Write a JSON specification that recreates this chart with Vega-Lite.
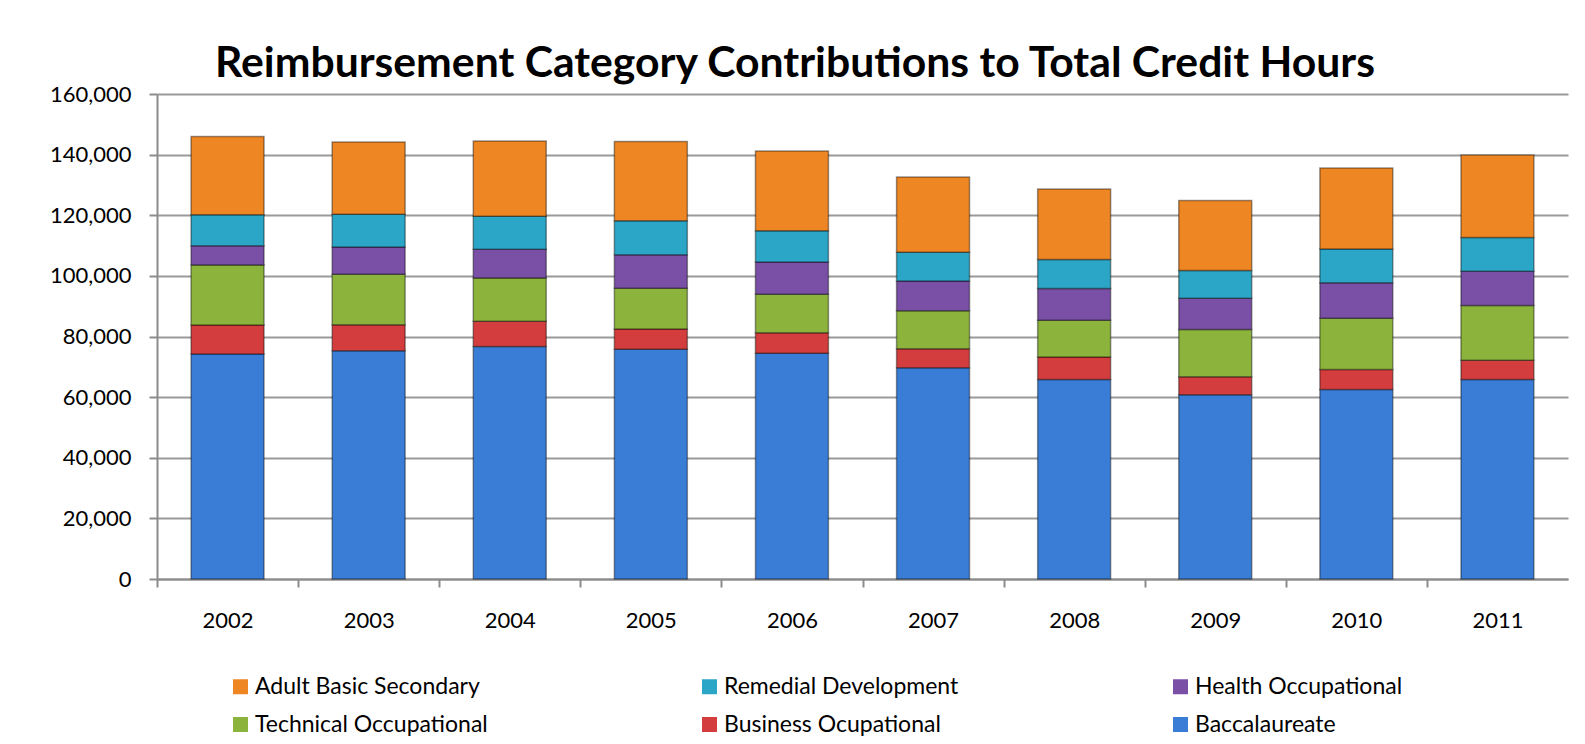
{
  "$schema": "https://vega.github.io/schema/vega-lite/v6.json",
  "width": 1411,
  "height": 485,
  "autosize": "none",
  "padding": {"left": 157, "top": 94, "right": 17, "bottom": 165},
  "background": "white",
  "title": {
    "text": "Reimbursement Category Contributions to Total Credit Hours",
    "font": "Lato",
    "fontSize": 42.7,
    "fontWeight": "bold",
    "color": "#000000",
    "anchor": "start",
    "frame": "group",
    "dx": 58,
    "dy": 51,
    "baseline": "alphabetic",
    "offset": 14
  },
  "data": {
    "values": [
      {"year": "2002", "category": "Baccalaureate", "hours": 74200},
      {"year": "2002", "category": "Business Ocupational", "hours": 9600},
      {"year": "2002", "category": "Technical Occupational", "hours": 19800},
      {"year": "2002", "category": "Health Occupational", "hours": 6300},
      {"year": "2002", "category": "Remedial Development", "hours": 10300},
      {"year": "2002", "category": "Adult Basic Secondary", "hours": 25800},
      {"year": "2003", "category": "Baccalaureate", "hours": 75300},
      {"year": "2003", "category": "Business Ocupational", "hours": 8600},
      {"year": "2003", "category": "Technical Occupational", "hours": 16600},
      {"year": "2003", "category": "Health Occupational", "hours": 9000},
      {"year": "2003", "category": "Remedial Development", "hours": 10800},
      {"year": "2003", "category": "Adult Basic Secondary", "hours": 23900},
      {"year": "2004", "category": "Baccalaureate", "hours": 76700},
      {"year": "2004", "category": "Business Ocupational", "hours": 8300},
      {"year": "2004", "category": "Technical Occupational", "hours": 14300},
      {"year": "2004", "category": "Health Occupational", "hours": 9500},
      {"year": "2004", "category": "Remedial Development", "hours": 10900},
      {"year": "2004", "category": "Adult Basic Secondary", "hours": 24800},
      {"year": "2005", "category": "Baccalaureate", "hours": 75800},
      {"year": "2005", "category": "Business Ocupational", "hours": 6700},
      {"year": "2005", "category": "Technical Occupational", "hours": 13400},
      {"year": "2005", "category": "Health Occupational", "hours": 11100},
      {"year": "2005", "category": "Remedial Development", "hours": 11200},
      {"year": "2005", "category": "Adult Basic Secondary", "hours": 26100},
      {"year": "2006", "category": "Baccalaureate", "hours": 74500},
      {"year": "2006", "category": "Business Ocupational", "hours": 6700},
      {"year": "2006", "category": "Technical Occupational", "hours": 12700},
      {"year": "2006", "category": "Health Occupational", "hours": 10700},
      {"year": "2006", "category": "Remedial Development", "hours": 10300},
      {"year": "2006", "category": "Adult Basic Secondary", "hours": 26300},
      {"year": "2007", "category": "Baccalaureate", "hours": 69700},
      {"year": "2007", "category": "Business Ocupational", "hours": 6300},
      {"year": "2007", "category": "Technical Occupational", "hours": 12500},
      {"year": "2007", "category": "Health Occupational", "hours": 9800},
      {"year": "2007", "category": "Remedial Development", "hours": 9500},
      {"year": "2007", "category": "Adult Basic Secondary", "hours": 24800},
      {"year": "2008", "category": "Baccalaureate", "hours": 65800},
      {"year": "2008", "category": "Business Ocupational", "hours": 7400},
      {"year": "2008", "category": "Technical Occupational", "hours": 12200},
      {"year": "2008", "category": "Health Occupational", "hours": 10400},
      {"year": "2008", "category": "Remedial Development", "hours": 9600},
      {"year": "2008", "category": "Adult Basic Secondary", "hours": 23300},
      {"year": "2009", "category": "Baccalaureate", "hours": 60800},
      {"year": "2009", "category": "Business Ocupational", "hours": 5900},
      {"year": "2009", "category": "Technical Occupational", "hours": 15600},
      {"year": "2009", "category": "Health Occupational", "hours": 10300},
      {"year": "2009", "category": "Remedial Development", "hours": 9200},
      {"year": "2009", "category": "Adult Basic Secondary", "hours": 23100},
      {"year": "2010", "category": "Baccalaureate", "hours": 62500},
      {"year": "2010", "category": "Business Ocupational", "hours": 6600},
      {"year": "2010", "category": "Technical Occupational", "hours": 16900},
      {"year": "2010", "category": "Health Occupational", "hours": 11700},
      {"year": "2010", "category": "Remedial Development", "hours": 11200},
      {"year": "2010", "category": "Adult Basic Secondary", "hours": 26700},
      {"year": "2011", "category": "Baccalaureate", "hours": 65800},
      {"year": "2011", "category": "Business Ocupational", "hours": 6400},
      {"year": "2011", "category": "Technical Occupational", "hours": 18000},
      {"year": "2011", "category": "Health Occupational", "hours": 11300},
      {"year": "2011", "category": "Remedial Development", "hours": 11200},
      {"year": "2011", "category": "Adult Basic Secondary", "hours": 27200}
    ]
  },
  "transform": [
    {"calculate": "indexof(['Adult Basic Secondary','Remedial Development','Health Occupational','Technical Occupational','Business Ocupational','Baccalaureate'], datum.category)", "as": "stackOrder"}
  ],
  "mark": {"type": "bar", "stroke": "#00000066", "strokeWidth": 1.5},
  "encoding": {
    "x": {
      "field": "year",
      "type": "nominal",
      "title": null,
      "scale": {"paddingInner": 0.483, "paddingOuter": 0.2415},
      "axis": {
        "labelAngle": 0,
        "labelFont": "Lato",
        "labelFontSize": 22,
        "labelColor": "#000000",
        "labelPadding": 23,
        "domainColor": "#8c8c8c",
        "domainWidth": 2,
        "tickColor": "#8c8c8c",
        "tickWidth": 2,
        "tickSize": 8,
        "tickOffset": -70.55,
        "labelOffset": 70.55,
        "grid": false
      }
    },
    "y": {
      "field": "hours",
      "type": "quantitative",
      "aggregate": "sum",
      "stack": "zero",
      "title": null,
      "scale": {"domain": [0, 160000], "nice": false},
      "axis": {
        "values": [0, 20000, 40000, 60000, 80000, 100000, 120000, 140000, 160000],
        "format": ",d",
        "labelFont": "Lato",
        "labelFontSize": 22,
        "labelColor": "#000000",
        "labelPadding": 18,
        "domainColor": "#8c8c8c",
        "domainWidth": 2,
        "tickColor": "#8c8c8c",
        "tickWidth": 2,
        "tickSize": 8,
        "grid": true,
        "gridColor": "#9a9a9a",
        "gridWidth": 2
      }
    },
    "color": {
      "field": "category",
      "type": "nominal",
      "sort": ["Adult Basic Secondary", "Remedial Development", "Health Occupational", "Technical Occupational", "Business Ocupational", "Baccalaureate"],
      "scale": {
        "domain": ["Adult Basic Secondary", "Remedial Development", "Health Occupational", "Technical Occupational", "Business Ocupational", "Baccalaureate"],
        "range": ["#ee8624", "#2ba6c6", "#7a4fa6", "#8cb43c", "#d43d3d", "#3a7dd6"]
      },
      "legend": {
        "title": null,
        "orient": "none",
        "legendX": 72,
        "legendY": 581,
        "direction": "horizontal",
        "columns": 3,
        "columnPadding": 210,
        "rowPadding": 14,
        "symbolType": "square",
        "symbolSize": 225,
        "symbolStrokeWidth": 0,
        "labelFont": "Lato",
        "labelFontSize": 23,
        "labelColor": "#000000",
        "labelLimit": 400,
        "labelOffset": 3
      }
    },
    "order": {"field": "stackOrder", "type": "quantitative", "sort": "descending"}
  },
  "config": {
    "view": {"stroke": null}
  }
}
